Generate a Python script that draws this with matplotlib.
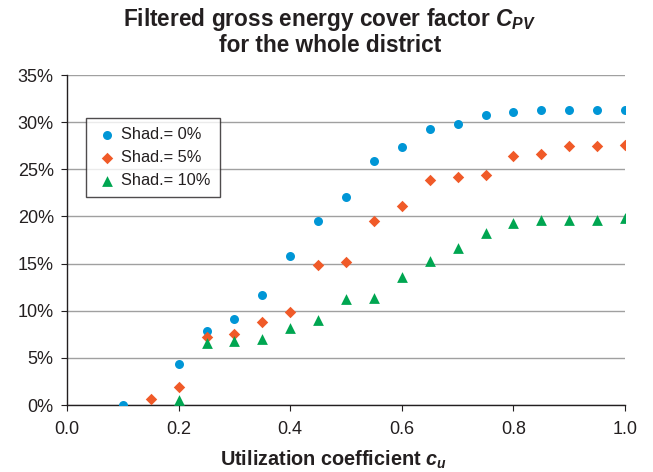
import matplotlib
matplotlib.use("Agg")
import matplotlib.pyplot as plt
from matplotlib.ticker import FuncFormatter, MultipleLocator

plt.rcParams['font.family'] = ['Liberation Sans', 'DejaVu Sans']
plt.rcParams['mathtext.fontset'] = 'custom'
plt.rcParams['mathtext.it'] = 'Liberation Sans:italic:bold'
plt.rcParams['mathtext.bf'] = 'Liberation Sans:bold'
plt.rcParams['mathtext.rm'] = 'Liberation Sans'

cu_0 = [0.10, 0.20, 0.25, 0.30, 0.35, 0.40, 0.45, 0.50, 0.55, 0.60,
        0.65, 0.70, 0.75, 0.80, 0.85, 0.90, 0.95, 1.00]
shad_0 = [0.0, 4.4, 7.8, 9.1, 11.7, 15.85, 19.5, 22.05, 25.9, 27.4,
          29.3, 29.8, 30.8, 31.1, 31.3, 31.3, 31.3, 31.3]

cu_5 = [0.15, 0.20, 0.25, 0.30, 0.35, 0.40, 0.45, 0.50, 0.55, 0.60,
        0.65, 0.70, 0.75, 0.80, 0.85, 0.90, 0.95, 1.00]
shad_5 = [0.65, 1.9, 7.2, 7.5, 8.8, 9.9, 14.8, 15.2, 19.5, 21.1,
          23.9, 24.2, 24.4, 26.4, 26.6, 27.5, 27.5, 27.6]

cu_10 = [0.20, 0.25, 0.30, 0.35, 0.40, 0.45, 0.50, 0.55, 0.60,
         0.65, 0.70, 0.75, 0.80, 0.85, 0.90, 0.95, 1.00]
shad_10 = [0.5, 6.6, 6.8, 7.05, 8.2, 9.0, 11.2, 11.35, 13.6,
           15.3, 16.6, 18.2, 19.3, 19.6, 19.6, 19.6, 19.8]

labels = ['Shad.= 0%', 'Shad.= 5%', 'Shad.= 10%']
colors = ['#0096d6', '#f05a28', '#00a651']

fig = plt.figure(figsize=(6.53, 4.72), dpi=100)
ax = fig.add_axes([67/653, 1-405/472, (625-67)/653, (405-75)/472])

ax.scatter(cu_0, shad_0, marker='o', s=42, color=colors[0], label=labels[0], zorder=3, linewidths=0)
ax.scatter(cu_5, shad_5, marker='D', s=34, color=colors[1], label=labels[1], zorder=4, linewidths=0)
ax.scatter(cu_10, shad_10, marker='^', s=60, color=colors[2], label=labels[2], zorder=5, linewidths=0)

ax.set_xlim(0, 1.0)
ax.set_ylim(0, 35)
ax.xaxis.set_major_locator(MultipleLocator(0.2))
ax.yaxis.set_major_locator(MultipleLocator(5))
ax.xaxis.set_major_formatter(FuncFormatter(lambda v, p: f"{v:.1f}"))
ax.yaxis.set_major_formatter(FuncFormatter(lambda v, p: f"{v:.0f}%"))

ax.grid(axis='y', color='#a0a0a0', linewidth=1.0)
ax.set_axisbelow(True)
for s in ['top', 'right']:
    ax.spines[s].set_visible(False)
for s in ['left', 'bottom']:
    ax.spines[s].set_color('#231f20')
    ax.spines[s].set_linewidth(1.0)
ax.tick_params(axis='both', labelsize=13, colors='#231f20', length=4.5, direction='out')
ax.tick_params(axis='x', pad=7)
ax.tick_params(axis='y', pad=5)

ax.set_xlabel(r'Utilization coefficient $c_u$', fontsize=14.3, fontweight='bold', color='#231f20')
ax.xaxis.set_label_coords(0.477, -0.132)
fig.text(0.505, 0.988, 'Filtered gross energy cover factor $C_{PV}$\nfor the whole district',
         ha='center', va='top', fontsize=16.3, fontweight='bold', color='#231f20', linespacing=1.1)

leg = ax.legend(loc='upper left', bbox_to_anchor=(19/558, 1-43/330), frameon=True, fancybox=False,
                edgecolor='#231f20', fontsize=11.8, handletextpad=0.1, borderpad=0.55,
                labelspacing=0.5, handlelength=1.5, borderaxespad=0)
leg.get_frame().set_linewidth(1.0)
for t in leg.get_texts():
    t.set_color('#231f20')

fig.savefig('out.png', dpi=100)
